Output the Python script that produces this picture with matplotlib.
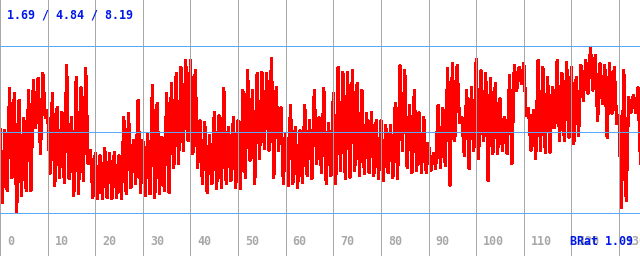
"""Dense red trace with min / avg / max guide lines, drawn as a 640x256 strip."""

from __future__ import annotations

import matplotlib

matplotlib.use("Agg")
import matplotlib.pyplot as plt
import matplotlib.transforms as mtransforms
import numpy as np

# Summary numbers shown in the corner and as the three blue guide lines.
STAT_MIN = 1.69
STAT_AVG = 4.84
STAT_MAX = 8.19
BRAT = 1.09

# x positions of the samples (one per unit) and the upper / lower envelope
# of the trace within each unit.
x_units = list(range(135))
upper = [
    4.94, 4.90, 6.55, 6.35, 6.08, 5.37, 6.47, 6.86, 6.94, 7.13,
    5.68, 6.35, 5.80, 5.61, 7.45, 5.41, 6.98, 6.58, 7.33, 4.12,
    4.00, 3.92, 4.20, 4.00, 4.04, 3.92, 5.41, 5.57, 4.51, 6.08,
    4.51, 4.78, 6.66, 5.96, 4.63, 6.35, 6.74, 7.13, 7.37, 7.64,
    7.64, 7.25, 5.29, 5.21, 4.70, 5.61, 5.49, 6.55, 5.02, 5.41,
    5.29, 6.47, 7.25, 6.47, 7.13, 7.17, 7.13, 7.72, 6.58, 5.80,
    4.78, 5.88, 5.02, 4.90, 5.88, 5.29, 6.47, 5.41, 6.55, 5.18,
    6.35, 7.37, 7.17, 7.17, 7.25, 6.74, 6.47, 5.57, 5.61, 5.29,
    5.29, 5.10, 5.10, 5.96, 7.45, 7.25, 5.88, 6.47, 5.61, 5.41,
    4.39, 4.00, 5.88, 5.76, 7.33, 7.52, 7.45, 5.41, 6.47, 6.58,
    7.68, 7.25, 7.13, 6.94, 6.74, 6.15, 5.41, 7.05, 7.45, 7.37,
    7.52, 5.76, 5.68, 7.64, 7.37, 6.98, 6.58, 7.64, 7.13, 7.56,
    7.37, 6.98, 7.45, 7.64, 8.15, 7.84, 7.52, 7.45, 7.52, 7.37,
    5.49, 7.25, 6.19, 6.27, 6.58,
]
lower = [
    2.08, 2.55, 3.06, 1.69, 2.36, 2.55, 2.55, 5.02, 4.00, 5.41,
    3.22, 2.75, 3.06, 2.86, 3.02, 2.36, 2.43, 2.94, 3.61, 2.28,
    2.24, 2.24, 2.28, 2.24, 2.28, 2.24, 2.43, 2.67, 2.83, 2.47,
    2.36, 2.43, 2.28, 2.43, 2.55, 2.47, 3.45, 3.61, 4.12, 4.51,
    4.00, 3.45, 2.83, 2.47, 2.83, 2.63, 2.67, 2.83, 2.94, 2.67,
    2.63, 3.06, 3.73, 2.83, 3.80, 4.20, 4.12, 3.06, 4.12, 2.83,
    2.75, 2.83, 2.67, 2.86, 3.14, 3.02, 3.61, 3.25, 2.83, 3.14,
    2.83, 3.33, 3.02, 3.06, 3.33, 3.14, 3.22, 3.25, 3.14, 3.02,
    2.94, 3.25, 3.06, 3.02, 4.12, 3.45, 3.25, 3.33, 3.25, 3.25,
    3.33, 3.41, 3.45, 3.53, 2.75, 4.51, 5.21, 3.92, 3.41, 4.12,
    3.80, 4.51, 2.94, 4.00, 4.00, 4.12, 4.00, 3.61, 6.47, 6.74,
    5.49, 4.12, 3.80, 4.12, 4.04, 4.04, 5.02, 4.51, 4.51, 4.63,
    4.39, 4.70, 6.08, 6.35, 6.47, 5.29, 5.96, 4.63, 5.57, 5.18,
    1.89, 2.16, 5.61, 5.61, 3.61,
]
x_ticks = list(range(0, 140, 10))

RED = "#ff0000"
GRID_GRAY = "#a8a8a8"
GUIDE_BLUE = "#5aa8f8"
TEXT_BLUE = "#0018e8"
LABEL_GRAY = "#a8a8a8"
MONO = ["DejaVu Sans Mono"]
FONT_SIZE = 8.4
ONE_PX = 0.72  # points per pixel at dpi 100


def main() -> None:
    fig = plt.figure(figsize=(6.4, 2.56), dpi=100)
    ax = fig.add_axes([0, 0, 1, 1])
    ax.set_xlim(0, 134.4)
    ax.set_ylim(0, 10)
    ax.set_axis_off()

    # Zig-zag between the upper and lower envelope so the trace looks as dense
    # as the original one-sample-per-pixel plot.
    xs = np.asarray(x_units, dtype=float)
    zig_x = np.column_stack([xs, xs + 0.5]).ravel()
    zig_y = np.column_stack([upper, lower]).ravel()
    ax.plot(zig_x, zig_y, color=RED, lw=1.6, antialiased=False, zorder=2)

    # Gray vertical grid every 10 units, drawn over the trace.
    for t in x_ticks:
        ax.axvline(t, color=GRID_GRAY, lw=ONE_PX, antialiased=False, zorder=3)

    # Blue min / avg / max guides.
    for v in (STAT_MIN, STAT_AVG, STAT_MAX):
        ax.axhline(v, color=GUIDE_BLUE, lw=ONE_PX, antialiased=False, zorder=3)

    # Tick labels just right of each grid line near the bottom edge.
    shift = mtransforms.offset_copy(ax.transData, fig=fig, x=7, y=0, units="dots")
    label_tf = mtransforms.blended_transform_factory(shift, ax.transAxes)
    for t in x_ticks:
        ax.text(t, 0.058, str(t), transform=label_tf, ha="left", va="center",
                color=LABEL_GRAY, fontsize=FONT_SIZE, family=MONO,
                fontweight="bold", zorder=4)

    ax.text(7 / 640, 1 - 15 / 256, f"{STAT_MIN:.2f} / {STAT_AVG:.2f} / {STAT_MAX:.2f}",
            transform=ax.transAxes, ha="left", va="center", color=TEXT_BLUE,
            fontsize=FONT_SIZE, family=MONO, fontweight="bold", zorder=5)
    ax.text(633 / 640, 0.058, f"BRat {BRAT:.2f}", transform=ax.transAxes,
            ha="right", va="center", color=TEXT_BLUE, fontsize=FONT_SIZE,
            family=MONO, fontweight="bold", zorder=5)

    fig.savefig("out.png", dpi=100, facecolor="white")
    plt.close(fig)


if __name__ == "__main__":
    main()
